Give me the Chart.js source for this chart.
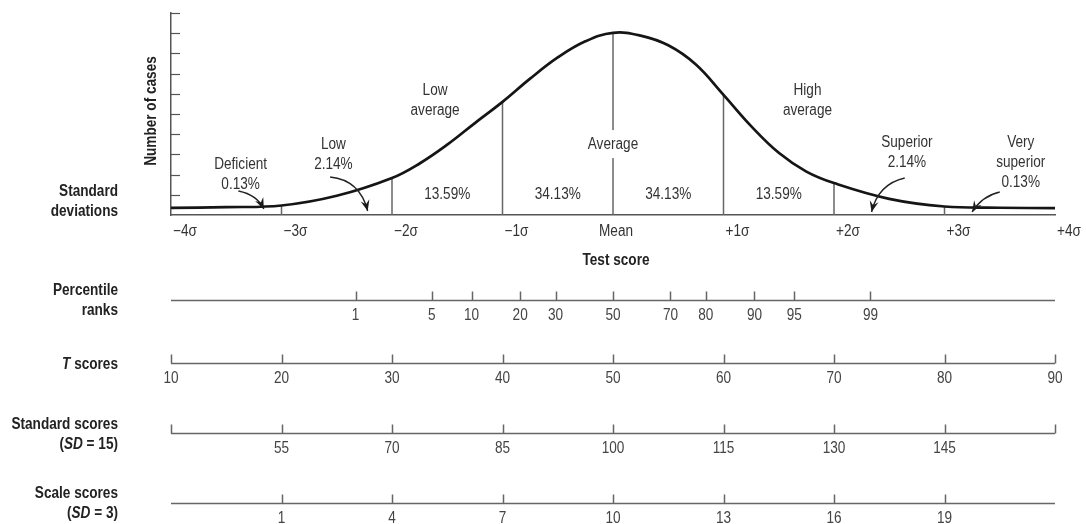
<!DOCTYPE html>
<html>
<head>
<meta charset="utf-8">
<script src="https://cdn.jsdelivr.net/npm/chart.js@4.4.1/dist/chart.umd.min.js"></script>
<style>
  html, body { margin: 0; padding: 0; background: #fff; }
  #wrap { width: 1086px; height: 524px; position: relative; }
</style>
</head>
<body>
<div id="wrap"><canvas id="chart"></canvas></div>
<script>
// bell curve: x in sigma units, y in "number of cases" tick units
const curveX = [-4, -3.5, -3, -2.5, -2, -1.75, -1.5, -1.25, -1, -0.75, -0.5, -0.25, 0,
  0.25, 0.5, 0.75, 1, 1.25, 1.5, 1.75, 2, 2.5, 3, 3.5, 4];
const curveY = [0.35, 0.39, 0.47, 0.95, 1.83, 2.55, 3.48, 4.55, 5.6, 6.75, 7.8, 8.6, 9.02,
  8.88, 8.4, 7.45, 5.95, 4.4, 3.08, 2.15, 1.58, 0.8, 0.42, 0.36, 0.34];

const sigmaTicks = [-4, -3, -2, -1, 0, 1, 2, 3, 4];
const sigmaLabels = ["−4σ", "−3σ", "−2σ", "−1σ", "Mean", "+1σ", "+2σ", "+3σ", "+4σ"];
const dividers = [-3, -2, -1, 0, 1, 2, 3];

const bandCenters = [-1.5, -0.5, 0.5, 1.5];
const bandPercents = ["13.59%", "34.13%", "34.13%", "13.59%"];

const percentileRanks = [1, 5, 10, 20, 30, 50, 70, 80, 90, 95, 99];
const percentileZ = [-2.33, -1.64, -1.28, -0.84, -0.52, 0, 0.52, 0.84, 1.28, 1.64, 2.33];
const tScores = [10, 20, 30, 40, 50, 60, 70, 80, 90];
const standardScores = [55, 70, 85, 100, 115, 130, 145];
const scaleScores = [1, 4, 7, 10, 13, 16, 19];

const FAMILY = '"Liberation Sans", Arial, sans-serif';
const SQ = 0.85; // condensed look
const TEXT = "#333";
const LINE = "#666";

function curveAt(k) {
  return curveY[curveX.indexOf(k)];
}

function drawText(ctx, str, x, y, font, align, color) {
  ctx.save();
  ctx.font = font;
  ctx.fillStyle = color || TEXT;
  ctx.textBaseline = "middle";
  const w = ctx.measureText(str).width * SQ;
  let x0 = x;
  if (align === "center") x0 = x - w / 2;
  else if (align === "right") x0 = x - w;
  ctx.translate(x0, y);
  ctx.scale(SQ, 1);
  ctx.textAlign = "left";
  ctx.fillText(str, 0, 0);
  ctx.restore();
  return w;
}

// right aligned bold label made of plain / italic pieces
function drawRich(ctx, segs, right, y) {
  ctx.save();
  const fonts = segs.map((s) => (s.i ? "italic " : "") + "bold 16px " + FAMILY);
  const widths = segs.map((s, k) => {
    ctx.font = fonts[k];
    return ctx.measureText(s.t).width * SQ;
  });
  let x = right - widths.reduce((a, b) => a + b, 0);
  segs.forEach((s, k) => {
    drawText(ctx, s.t, x, y, fonts[k], "left", "#222");
    x += widths[k];
  });
  ctx.restore();
}

const rowTitles = [
  { ys: [192, 212], lines: [[{ t: "Standard" }], [{ t: "deviations" }]] },
  { ys: [291, 311], lines: [[{ t: "Percentile" }], [{ t: "ranks" }]] },
  { ys: [365], lines: [[{ t: "T", i: true }, { t: " scores" }]] },
  { ys: [425, 445], lines: [[{ t: "Standard scores" }], [{ t: "(" }, { t: "SD", i: true }, { t: " = 15)" }]] },
  { ys: [494, 514], lines: [[{ t: "Scale scores" }], [{ t: "(" }, { t: "SD", i: true }, { t: " = 3)" }]] },
];

const rows = [
  { y: 300, scale: "x", ticks: percentileZ, labels: percentileRanks, ends: false },
  { y: 363, scale: "tScale", ticks: tScores, labels: tScores, ends: true },
  { y: 433, scale: "stdScale", ticks: standardScores, labels: standardScores, ends: true },
  { y: 503, scale: "scaledScale", ticks: scaleScores, labels: scaleScores, ends: false },
];

const notes = [
  { x: -1.61, y: 6.14, lines: ["Low", "average"] },
  { x: 1.76, y: 6.14, lines: ["High", "average"] },
  { x: -3.37, y: 2.52, lines: ["Deficient", "0.13%"] },
  { x: -2.53, y: 3.47, lines: ["Low", "2.14%"] },
  { x: 2.66, y: 3.56, lines: ["Superior", "2.14%"] },
  { x: 3.69, y: 3.56, lines: ["Very", "superior", "0.13%"] },
];

const arrows = [
  { s: [-3.39, 1.19], c: [-3.22, 1.0], e: [-3.16, 0.3] },
  { s: [-2.56, 1.88], c: [-2.29, 1.73], e: [-2.22, 0.2] },
  { s: [2.64, 1.83], c: [2.4, 1.53], e: [2.34, 0.15] },
  { s: [3.5, 1.14], c: [3.34, 0.94], e: [3.25, 0.15] },
];

const overlay = {
  id: "overlay",
  afterDraw(chart) {
    const ctx = chart.ctx;
    const xs = chart.scales.x;
    const ys = chart.scales.y;
    const area = chart.chartArea;
    const reg = "16px " + FAMILY;
    const bold = "bold 16px " + FAMILY;
    const px = (v) => xs.getPixelForValue(v);
    const py = (v) => ys.getPixelForValue(v);

    // inside ticks on the y axis
    ctx.save();
    ctx.strokeStyle = "#555";
    ctx.lineWidth = 1.2;
    ys.ticks.forEach((t) => {
      if (t.value <= 0) return;
      const y = Math.round(py(t.value)) + 0.5;
      ctx.beginPath();
      ctx.moveTo(area.left, y);
      ctx.lineTo(area.left + 9, y);
      ctx.stroke();
    });
    ctx.restore();

    // y axis title
    ctx.save();
    ctx.translate(152, (area.top + area.bottom) / 2 - 3);
    ctx.rotate(-Math.PI / 2);
    drawText(ctx, "Number of cases", 0, 0, bold, "center", "#222");
    ctx.restore();

    // "Average" with a gap in the mean line
    ctx.save();
    ctx.font = reg;
    const aw = ctx.measureText("Average").width * SQ;
    ctx.fillStyle = "#fff";
    ctx.fillRect(px(0) - aw / 2 - 2, py(3.51) - 14, aw + 4, 28);
    ctx.restore();
    drawText(ctx, "Average", px(0), py(3.51), reg, "center");

    notes.forEach((n) => {
      n.lines.forEach((l, k) => drawText(ctx, l, px(n.x), py(n.y) + k * 20, reg, "center"));
    });
    bandCenters.forEach((c, k) => drawText(ctx, bandPercents[k], px(c), py(0.99), reg, "center"));

    // arrows
    ctx.save();
    ctx.strokeStyle = "#222";
    ctx.fillStyle = "#1a1a1a";
    ctx.lineWidth = 1.4;
    arrows.forEach((a) => {
      const sx = px(a.s[0]), sy = py(a.s[1]);
      const cx = px(a.c[0]), cy = py(a.c[1]);
      const ex = px(a.e[0]), ey = py(a.e[1]);
      ctx.beginPath();
      ctx.moveTo(sx, sy);
      ctx.quadraticCurveTo(cx, cy, ex, ey);
      ctx.stroke();
      let dx = ex - cx, dy = ey - cy;
      const len = Math.hypot(dx, dy);
      dx /= len; dy /= len;
      const nx = -dy, ny = dx;
      const bx = ex - dx * 11, by = ey - dy * 11;
      ctx.beginPath();
      ctx.moveTo(ex, ey);
      ctx.lineTo(bx + nx * 4.5, by + ny * 4.5);
      ctx.lineTo(ex - dx * 7, ey - dy * 7);
      ctx.lineTo(bx - nx * 4.5, by - ny * 4.5);
      ctx.closePath();
      ctx.fill();
    });
    ctx.restore();

    // sigma labels and axis name
    sigmaTicks.forEach((v, k) => {
      if (v === 0) drawText(ctx, sigmaLabels[k], px(v) + 3, 232, reg, "center");
      else drawText(ctx, sigmaLabels[k], px(v) + 2, 232, reg, "left");
    });
    drawText(ctx, "Test score", px(0) + 3, 261, bold, "center", "#222");

    // left hand titles
    rowTitles.forEach((r) => r.lines.forEach((segs, k) => drawRich(ctx, segs, 118, r.ys[k])));

    // lower score rows
    ctx.save();
    ctx.strokeStyle = LINE;
    ctx.lineWidth = 1.5;
    rows.forEach((row) => {
      const sc = chart.scales[row.scale];
      const y = row.y + 0.5;
      ctx.beginPath();
      ctx.moveTo(area.left, y);
      ctx.lineTo(area.right, y);
      const marks = row.ticks.map((v) => sc.getPixelForValue(v));
      if (row.ends) marks.push(sc.left, sc.right);
      marks.forEach((x) => {
        ctx.moveTo(Math.round(x) + 0.5, y);
        ctx.lineTo(Math.round(x) + 0.5, y - 9);
      });
      ctx.stroke();
      row.ticks.forEach((v, k) => {
        drawText(ctx, String(row.labels[k]), sc.getPixelForValue(v), row.y + 16, reg, "center", "#444");
      });
    });
    ctx.restore();
  },
};

const datasets = [
  {
    label: "Number of cases",
    data: curveX.map((x, i) => ({ x: x, y: curveY[i] })),
    borderColor: "#151515",
    borderWidth: 2.7,
    pointRadius: 0,
    tension: 0.4,
    order: 0,
  },
];
dividers.forEach((k) => {
  datasets.push({
    label: "divider " + k,
    data: [{ x: k, y: 0 }, { x: k, y: curveAt(k) }],
    borderColor: LINE,
    borderWidth: 1.5,
    pointRadius: 0,
    order: 1,
  });
});

const chart = new Chart(document.getElementById("chart"), {
  type: "line",
  data: { datasets: datasets },
  options: {
    responsive: true,
    maintainAspectRatio: false,
    animation: false,
    devicePixelRatio: 1,
    layout: { padding: { left: 171, right: 31, top: 13, bottom: 309 } },
    plugins: { legend: { display: false }, tooltip: { enabled: false } },
    scales: {
      x: {
        type: "linear",
        min: -4,
        max: 4,
        grid: { display: false, drawTicks: false },
        ticks: { display: false },
        border: { display: true, color: "#555", width: 1.5 },
        afterFit: (s) => { s.height = 0; },
      },
      y: {
        type: "linear",
        min: 0,
        max: 10,
        ticks: { display: false, stepSize: 1 },
        grid: { display: false, drawTicks: false },
        border: { display: true, color: "#555", width: 1.5 },
        afterFit: (s) => { s.width = 0; },
      },
      tScale: { type: "linear", axis: "x", display: false, min: 10, max: 90 },
      stdScale: { type: "linear", axis: "x", display: false, min: 40, max: 160 },
      scaledScale: { type: "linear", axis: "x", display: false, min: -2, max: 22 },
    },
  },
  plugins: [overlay],
});
</script>
</body>
</html>
